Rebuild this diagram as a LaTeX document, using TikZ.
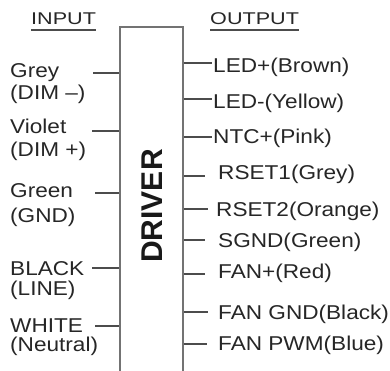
\documentclass[tikz,border=0pt]{standalone}
\usepackage{fontspec}
\setmainfont{Liberation Sans}[FakeStretch=1.13]
\newfontfamily\headfont{Liberation Sans}[FakeStretch=1.27]
\newfontfamily\drvfont{Liberation Sans}
\usepackage{tikz}

\begin{document}
\begin{tikzpicture}[x=1pt,y=-1pt,
    lbl/.style={anchor=base west,inner sep=0pt,text=black!85,font=\fontsize{20}{22}\selectfont},
    hd/.style={anchor=base west,inner sep=0pt,text=black!85,font=\headfont\fontsize{17}{19}\selectfont},
    wire/.style={draw=black!70,line width=1.8pt}]
      \useasboundingbox (0,0) rectangle (390,371);

      % the driver box, open at the bottom
      \node[draw=black!55,line width=1.8pt,minimum width=63pt,minimum height=400pt,anchor=north] (drv) at (151.5,26) {};
      \node[rotate=90,inner sep=0pt,text=black!90,font=\drvfont\bfseries\fontsize{30}{32}\selectfont] (drvtxt) at (152.5,206) {DRIVER};

      \node[hd] (inp) at (31,25) {INPUT};
      \node[hd] (outp) at (210,25) {OUTPUT};
      \draw[wire] ([yshift=-5pt]inp.base west) -- ([yshift=-5pt]inp.base east);
      \draw[wire] ([yshift=-5pt]outp.base west) -- ([yshift=-5pt]outp.base east);

      % input side
      \node[lbl] (grey) at (10,78) {Grey};
      \node[lbl] (greyb) at (10,100) {(DIM --)};
      \node[lbl] (violet) at (10,134) {Violet};
      \node[lbl] (violetb) at (10,157) {(DIM +)};
      \node[lbl] (green) at (10,197) {Green};
      \node[lbl] (greenb) at (10,222) {(GND)};
      \node[lbl] (black) at (10,275) {BLACK};
      \node[lbl] (blackb) at (10,295) {(LINE)};
      \node[lbl] (white) at (10,332) {WHITE};
      \node[lbl] (whiteb) at (10,351) {(Neutral)};

      \coordinate (grey-end) at (93,73);
      \coordinate (violet-end) at (92,131);
      \coordinate (green-end) at (95,193);
      \coordinate (black-end) at (92,268);
      \coordinate (white-end) at (95,326);
      \draw[wire] (grey-end) -- (grey-end -| drv.west);
      \draw[wire] (violet-end) -- (violet-end -| drv.west);
      \draw[wire] (green-end) -- (green-end -| drv.west);
      \draw[wire] (black-end) -- (black-end -| drv.west);
      \draw[wire] (white-end) -- (white-end -| drv.west);

      % output side
      \node[lbl] (ledp) at (213,73) {LED+(Brown)};
      \node[lbl] (ledm) at (213,109) {LED-(Yellow)};
      \node[lbl] (ntc) at (213,144) {NTC+(Pink)};
      \node[lbl] (rseta) at (218,180) {RSET1(Grey)};
      \node[lbl] (rsetb) at (216,216) {RSET2(Orange)};
      \node[lbl] (sgnd) at (218,247) {SGND(Green)};
      \node[lbl] (fanp) at (218,278) {FAN+(Red)};
      \node[lbl] (fangnd) at (218,319) {FAN GND(Black)};
      \node[lbl] (fanpwm) at (218,350) {FAN PWM(Blue)};

      \coordinate (ledp-end) at (212,63);
      \coordinate (ledm-end) at (212,99);
      \coordinate (ntc-end) at (212,137);
      \coordinate (rseta-end) at (205,176);
      \coordinate (rsetb-end) at (208,209);
      \coordinate (sgnd-end) at (205,240);
      \coordinate (fanp-end) at (205,274);
      \coordinate (fangnd-end) at (208,312);
      \coordinate (fanpwm-end) at (207,344);
      \draw[wire] (ledp-end -| drv.east) -- (ledp-end);
      \draw[wire] (ledm-end -| drv.east) -- (ledm-end);
      \draw[wire] (ntc-end -| drv.east) -- (ntc-end);
      \draw[wire] (rseta-end -| drv.east) -- (rseta-end);
      \draw[wire] (rsetb-end -| drv.east) -- (rsetb-end);
      \draw[wire] (sgnd-end -| drv.east) -- (sgnd-end);
      \draw[wire] (fanp-end -| drv.east) -- (fanp-end);
      \draw[wire] (fangnd-end -| drv.east) -- (fangnd-end);
      \draw[wire] (fanpwm-end -| drv.east) -- (fanpwm-end);
    \end{tikzpicture}
\end{document}
